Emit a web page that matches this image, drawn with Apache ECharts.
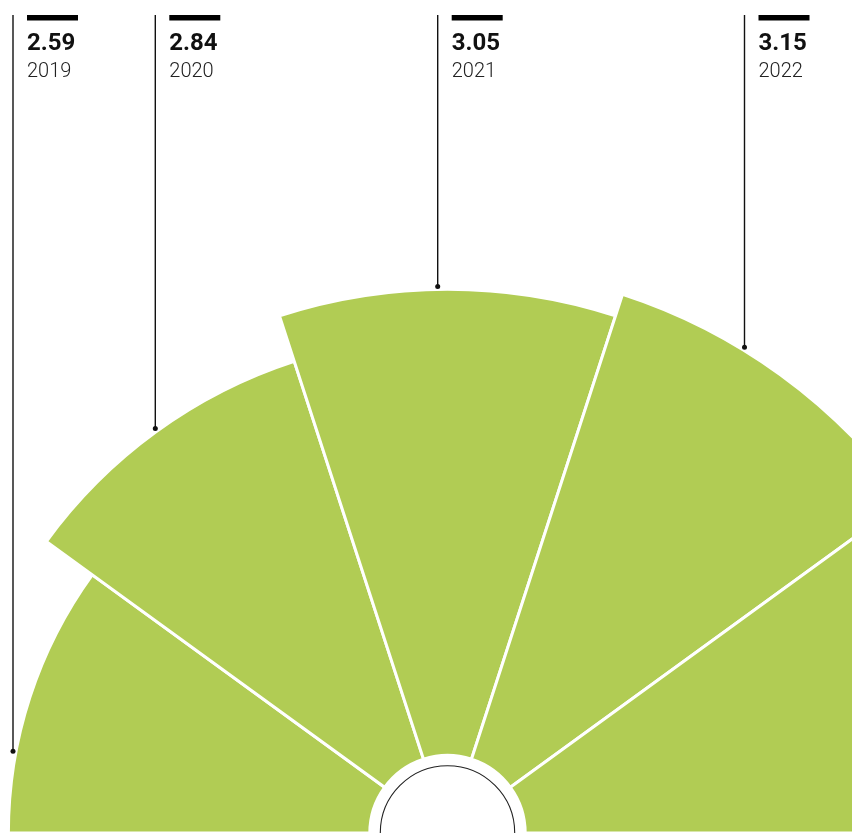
<!DOCTYPE html>
<html>
<head>
<meta charset="utf-8">
<script src="https://cdn.jsdelivr.net/npm/echarts@6/dist/echarts.min.js"></script>
<style>
  html, body { margin: 0; padding: 0; background: #fff; }
  #container { width: 852px; height: 840px; }
</style>
</head>
<body>
<div id="container"></div>
<script>
// data (2023 sits mostly off the right edge, its value is a guess)
var years = ['2019', '2020', '2021', '2022', '2023'];
var values = [2.59, 2.84, 3.05, 3.15, 3.35];
var valueLabels = ['2.59', '2.84', '3.05', '3.15', ''];

// where each callout line stands (layout only), null = no callout
var calloutX = [13, 155.3, 437.7, 744.5, null];

var myChart = echarts.init(document.getElementById('container'));

var center = [447.5, 833];
var green = '#b1cc54';

function renderCallout(params, api) {
	var idx = api.value(1);
	var x = calloutX[idx];
	if (x == null) return;
	var cs = params.coordSys;
	var pt = api.coord([api.value(0), idx]);
	var rFull = Math.sqrt(Math.pow(pt[0] - cs.cx, 2) + Math.pow(pt[1] - cs.cy, 2));
	var rDot = rFull + 3;
	var dx = x - cs.cx;
	var yDot = cs.cy - Math.sqrt(rDot * rDot - dx * dx);
	var top = 15;
	return {
		type: 'group',
		children: [
			{ type: 'line', shape: { x1: x, y1: top, x2: x, y2: yDot },
			  style: { stroke: '#111', lineWidth: 1.4 } },
			{ type: 'circle', shape: { cx: x, cy: yDot, r: 2.5 },
			  style: { fill: '#111' } },
			{ type: 'rect', shape: { x: x + 14, y: top, width: 51, height: 5.5 },
			  style: { fill: '#000' } },
			{ type: 'text', x: x + 14, y: 43.5,
			  style: { text: valueLabels[idx], fill: '#111', font: 'bold 24px Roboto',
			           verticalAlign: 'middle', align: 'left' } },
			{ type: 'text', x: x + 14, y: 71.5,
			  style: { text: years[idx], fill: '#222', font: '300 20px Roboto',
			           verticalAlign: 'middle', align: 'left' } }
		]
	};
}

var option = {
	animation: false,
	polar: [
		{ center: center, radius: [77.7, 759.6] },
		{ center: center, radius: [0, 67.2] }
	],
	angleAxis: [
		{
			polarIndex: 0,
			type: 'category',
			data: years,
			startAngle: 180,
			endAngle: 0,
			axisLine: { show: false },
			axisTick: { show: false },
			axisLabel: { show: false },
			splitLine: { show: false }
		},
		{
			polarIndex: 1,
			type: 'value',
			startAngle: 180,
			endAngle: 0,
			axisLine: { show: true, lineStyle: { color: '#222', width: 1.1 } },
			axisTick: { show: false },
			axisLabel: { show: false },
			splitLine: { show: false }
		}
	],
	radiusAxis: [
		{
			polarIndex: 0,
			type: 'value',
			min: 1,
			max: 4,
			axisLine: { show: false },
			axisTick: { show: false },
			axisLabel: { show: false },
			splitLine: { show: false }
		},
		{
			polarIndex: 1,
			type: 'value',
			axisLine: { show: false },
			axisTick: { show: false },
			axisLabel: { show: false },
			splitLine: { show: false }
		}
	],
	series: [
		{
			type: 'bar',
			coordinateSystem: 'polar',
			polarIndex: 0,
			data: values,
			barCategoryGap: '0%',
			itemStyle: { color: green, borderColor: '#fff', borderWidth: 3 },
			silent: true
		},
		{
			type: 'custom',
			coordinateSystem: 'polar',
			polarIndex: 0,
			data: values.map(function (v, i) { return [v, i]; }),
			encode: { radius: 0, angle: 1 },
			renderItem: renderCallout,
			silent: true,
			z: 5
		}
	]
};
myChart.setOption(option);
</script>
</body>
</html>
